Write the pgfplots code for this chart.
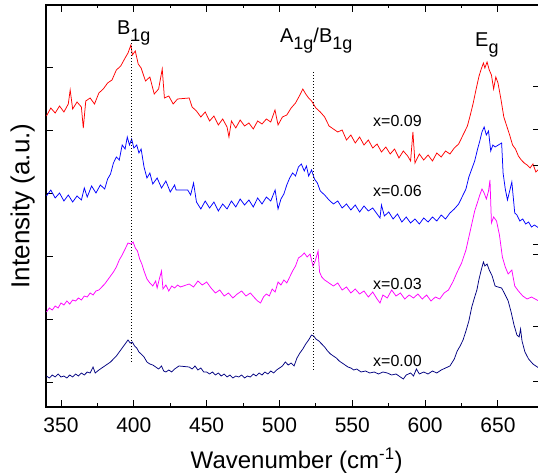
\documentclass[border=0pt]{standalone}
\usepackage{pgfplots}
\pgfplotsset{compat=1.18}
\usepackage{fontspec}
\setmainfont{Liberation Sans}
\definecolor{navy}{RGB}{0,0,128}
\definecolor{mag}{RGB}{255,0,255}
\definecolor{pred}{RGB}{255,0,0}
\definecolor{pblue}{RGB}{0,0,255}
\begin{document}
\begin{tikzpicture}
\begin{axis}[name=ax, scale only axis, width=493.5pt, height=402pt,
  xmin=339.7, xmax=678.5, ymin=0, ymax=402,
  xtick={350,400,...,650}, minor x tick num=1, xtick pos=both, xticklabel pos=bottom,
  ytick pos=left, ytick={24,87,150,213,276,339}, yticklabels={},
  tick align=inside, major tick length=7pt, minor tick length=3.5pt,
  axis line style={line width=1.2pt}, every tick/.style={black, line width=1pt},
  /pgf/number format/assume math mode=true,
  xticklabel style={font=\fontsize{21}{21}\selectfont, anchor=base, yshift=-26pt},
  xlabel={Wavenumber (cm\textsuperscript{-1})},
  xlabel style={font=\fontsize{24}{24}\selectfont, at={(axis description cs:0.508,-0.153)}, anchor=base},
  ylabel={Intensity (a.u.)},
  ylabel style={font=\fontsize{26}{26}\selectfont, inner sep=0pt, at={(axis description cs:-0.0223,0.5)}, anchor=south},
  every axis plot/.append style={line width=0.75pt},
]
% x=0.09
\addplot[pred] coordinates {(340,291)(343,299)(346,294)(349,301)(352,295)(355,303)(356.3,317)(358,298)(361,305)(364,300)(365.3,279)(367,306)(370,309)(373,303)(376,314)(379,318)(382,324)(385,327)(388,337)(391,341)(394,349)(396,354)(398,362)(399,352)(401,356)(403,343)(405,339)(408,326)(411,330)(414,313)(417,318)(419.5,338)(421,309)(424,311)(427,303)(430,308)(438,309)(440,300)(443,296)(446,290)(449,295)(452,286)(455,291)(458,282)(461,288)(464,280)(465.3,270)(467,286)(470,279)(473,287)(476,281)(479,284)(482,278)(485,286)(488,283)(491,288)(494,285)(496.9,297)(499,282)(502,290)(505,292)(508,299)(511,304)(514,312)(516,318)(518,313)(520,309)(522,306)(525,299)(528,295)(531,290)(534,281)(537,278)(540,275)(543,277)(546,267)(549,272)(552,264)(555,270)(558,262)(561,267)(564,259)(567,263)(570,255)(573,260)(576,253)(579,258)(582,249)(585,256)(588,251)(590,246)(591.6,275)(593,244)(596,253)(599,247)(602,252)(605,246)(608,254)(611,250)(614,256)(617,253)(620,259)(623,263)(626,272)(629,281)(631,292)(633,304)(635,318)(637,331)(638.5,338)(640,344)(641,339)(642.5,345)(644,337)(645.5,332)(647,318)(648.5,330)(650,324)(652,308)(654,290)(656,281)(658,272)(660,262)(662,258)(664,251)(666,247)(668,244)(670,242)(672,239)(674,243)(676,235)(678,238)};
% x=0.06
\addplot[pblue] coordinates {(340,211)(343,217)(346,209)(349,214)(352,206)(355,212)(358,205)(361,211)(364,207)(366,219)(368,210)(371,221)(374,214)(377,222)(380,218)(382,228)(384,233)(386,244)(388,250)(390,247)(392,262)(394,258)(395.5,270)(397,262)(398.5,268)(400,259)(402,262)(403.5,254)(405,258)(407,240)(409,229)(411,234)(413,223)(416,229)(419,219)(422,226)(425,215)(428,222)(429,217)(437,217)(439,212)(441,224)(443,205)(446,198)(449,206)(452,199)(455,205)(458,196)(461,203)(464,198)(467,206)(470,200)(473,208)(476,202)(479,207)(482,200)(485,209)(488,203)(491,210)(494,206)(497,217)(499,198)(501,208)(503,213)(505,222)(507,229)(509,234)(511,231)(513,240)(515,243)(517,236)(518.5,241)(520,231)(522,237)(524,228)(526,224)(528,216)(531,212)(534,207)(537,203)(540,206)(543,199)(546,203)(549,197)(552,202)(555,195)(558,201)(561,196)(564,199)(567,193)(569,189)(570,202)(572,191)(575,195)(578,188)(581,193)(584,185)(587,190)(590,184)(593,188)(596,183)(599,189)(602,185)(605,190)(608,186)(611,192)(614,188)(617,194)(620,198)(623,203)(626,212)(628,218)(630,230)(632,238)(634,246)(636,258)(637.5,266)(639,275)(640.5,280)(642,272)(643.5,276)(645,256)(646.5,262)(648,260)(652.5,264)(653.5,234)(655,218)(656.5,207)(659.5,225)(661.5,194)(663,192)(665,186)(667,188)(669,183)(671,185)(673,180)(675,182)(678,179)};
% x=0.03
\addplot[mag] coordinates {(340,95)(342,99)(344,97)(346,101)(348,99)(350,104)(352,102)(354,106)(356,103)(358,107)(360,106)(362,109)(364,107)(366,111)(368,110)(370,114)(372,112)(374,116)(376,117)(378,120)(380,123)(382,127)(384,131)(386,135)(388,140)(390,147)(392,152)(394,158)(396,164)(398,163)(399.5,165)(401,159)(402.5,156)(404,148)(405.5,143)(407,136)(409,128)(411,124)(413,121)(415,126)(416,119)(417.5,128)(419,136)(420,118)(422,122)(424,116)(426,121)(428,119)(430,122)(432,120)(438,123)(441,120)(444,126)(447,122)(450,125)(453,119)(456,114)(459,117)(462,111)(465,114)(468,109)(471,113)(474,116)(477,111)(480,114)(483,109)(485,106)(487,104)(489,110)(491,113)(493,111)(495,118)(497,115)(499,125)(501,122)(503,127)(505,124)(507,130)(509,136)(511,141)(513,149)(515,151)(517,154)(519,150)(521,153)(523,141)(524.5,146)(526.5,156)(527.5,135)(529,130)(531,127)(534,124)(537,121)(540,124)(543,117)(546,120)(549,114)(552,118)(555,113)(558,116)(561,110)(564,115)(567,108)(569,104)(571,112)(574,109)(577,117)(580,111)(583,114)(586,108)(589,112)(592,109)(595,113)(598,108)(601,112)(604,106)(607,110)(610,108)(613,114)(616,117)(619,125)(622,135)(625,144)(628,157)(630,170)(632,183)(634,196)(636,205)(637.5,212)(639,218)(640.5,214)(642,208)(643.5,216)(644.5,227)(645.5,184)(647,190)(649,186)(651,172)(653,150)(655,140)(657,133)(659.5,137)(661.5,121)(664,116)(667,111)(670,108)(673,110)(678,106)};
% x=0.00
\addplot[navy] coordinates {(340,31)(342,29)(344,32)(346,30)(348,33)(350,30)(352,31)(354,29)(356,32)(358,30)(360,33)(362,31)(364,34)(366,32)(368,35)(370,34)(372,40)(373.5,34)(376,37)(378,39)(380,41)(382,43)(384,45)(386,48)(388,51)(390,55)(392,59)(394,63)(396,67)(397.5,64)(399,65)(400.5,61)(402,59)(403.5,55)(405,53)(407,50)(409,45)(411,43)(413,42)(415,40)(417,38)(419,41)(420.5,36)(422,35)(424,37)(426,35)(428,38)(431,41)(438,40)(440,38)(442,41)(444,37)(446,39)(448,35)(450,35)(452,33)(454,35)(456,32)(458,34)(460,31)(462,33)(464,30)(466,32)(468,29)(470,31)(472,30)(474,32)(476,29)(478,31)(480,30)(482,33)(484,31)(486,34)(488,32)(490,35)(492,33)(494,36)(496,34)(498,37)(500,39)(502,41)(504,45)(506,42)(508,44)(510,41)(512,49)(514,54)(516,58)(518,63)(520,67)(522,72)(523.5,71)(525,68)(527,66)(529,63)(531,60)(533,56)(535,53)(537,51)(539,49)(541,46)(543,44)(545,42)(547,40)(549,39)(551,37)(553,38)(556,35)(559,36)(562,34)(565,35)(568,33)(571,35)(574,34)(577,32)(580,33)(583,30)(585,28)(587,32)(590,34)(592,31)(594,38)(596,33)(599,35)(602,33)(605,36)(608,34)(611,37)(614,39)(617,41)(620,48)(622,56)(624,61)(626,67)(628,76)(630,86)(632,100)(634,110)(635.5,117)(637,128)(638.5,137)(640,145)(641,141)(642.5,143)(644,137)(646,131)(648,121)(650,120)(652.5,119)(655,112)(657,106)(659,95)(661,82)(663,72)(664.5,70)(665.5,78)(666.5,66)(668.5,55)(671,48)(674,43)(678,39)};
% peak guides
\addplot[black, line width=0.7pt, dash pattern=on 1pt off 2pt] coordinates {(398,45) (398,369)};
\addplot[black, line width=0.7pt, dash pattern=on 1pt off 2pt] coordinates {(523,37) (523,335)};
% mode labels
\node[anchor=base west, inner sep=0pt, font=\fontsize{20}{20}\selectfont] at (axis cs:388.4,372) {B\raisebox{-7pt}{\fontsize{18}{18}\selectfont 1g}};
\node[anchor=base west, inner sep=0pt, font=\fontsize{20}{20}\selectfont] at (axis cs:500.3,364) {A\raisebox{-7pt}{\fontsize{18}{18}\selectfont 1g}/B\raisebox{-7pt}{\fontsize{18}{18}\selectfont 1g}};
\node[anchor=base west, inner sep=0pt, font=\fontsize{20}{20}\selectfont] at (axis cs:634.2,360) {E\raisebox{-7pt}{\fontsize{18}{18}\selectfont g}};
% sample labels
\node[anchor=base west, inner sep=0pt, font=\fontsize{16}{16}\selectfont] at (axis cs:564.2,280) {x=0.09};
\node[anchor=base west, inner sep=0pt, font=\fontsize{16}{16}\selectfont] at (axis cs:564.2,210) {x=0.06};
\node[anchor=base west, inner sep=0pt, font=\fontsize{16}{16}\selectfont] at (axis cs:564.2,117) {x=0.03};
\node[anchor=base west, inner sep=0pt, font=\fontsize{16}{16}\selectfont] at (axis cs:564.2,40) {x=0.00};
\end{axis}
\begin{axis}[at={(ax.south west)}, anchor=south west, scale only axis, width=493.5pt, height=402pt,
  xmin=339.7, xmax=678.5, ymin=0, ymax=402,
  hide x axis, axis y line*=right,
  ytick={25,80,152,162,241,277,320}, yticklabels={},
  tick align=inside, major tick length=7pt,
  axis line style={line width=1.2pt}, every tick/.style={black, line width=1pt},
]
\end{axis}
\pgfresetboundingbox
\path ([xshift=-46pt,yshift=-69pt]ax.south west) rectangle ([xshift=-1.5pt,yshift=5pt]ax.north east);
\end{tikzpicture}
\end{document}
